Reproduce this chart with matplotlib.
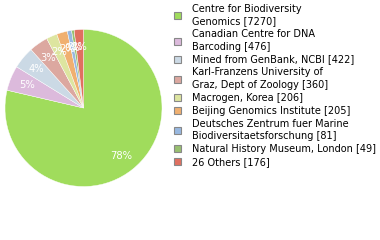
import matplotlib
matplotlib.use("Agg")
import matplotlib.pyplot as plt
from matplotlib.patches import Patch

# data
labels = ["Centre for Biodiversity\nGenomics [7270]",
          "Canadian Centre for DNA\nBarcoding [476]",
          "Mined from GenBank, NCBI [422]",
          "Karl-Franzens University of\nGraz, Dept of Zoology [360]",
          "Macrogen, Korea [206]",
          "Beijing Genomics Institute [205]",
          "Deutsches Zentrum fuer Marine\nBiodiversitaetsforschung [81]",
          "Natural History Museum, London [49]",
          "26 Others [176]"]
counts = [7270, 476, 422, 360, 206, 205, 81, 49, 176]
colors = ["#a0dc5c", "#dcbadc", "#cbd9e5", "#dca8a0", "#dde5a0",
          "#f0b070", "#98b8e0", "#98c070", "#e07060"]

fig = plt.figure(figsize=(3.8, 2.4), dpi=100)
ax = fig.add_axes([5 / 380, 53.5 / 240, 157 / 380, 157 / 240])

def fmt(p):
    return "%d%%" % int(p)

wedges, texts, autotexts = ax.pie(
    counts, colors=colors, startangle=90, counterclock=False,
    autopct=fmt, pctdistance=0.78, radius=1,
    wedgeprops=dict(edgecolor="white", linewidth=0.3),
    textprops=dict(color="white", fontsize=7.2))
ax.set_xlim(-1, 1)
ax.set_ylim(-1, 1)
ax.set_aspect("equal")
ax.axis("off")

handles = [Patch(facecolor=c, edgecolor="#888888", linewidth=0.8) for c in colors]
leg = fig.legend(handles, labels, loc="upper left", bbox_to_anchor=(172 / 380, 1 - 2 / 240),
                 frameon=False, fontsize=7.0, handlelength=0.72, handleheight=0.72,
                 handletextpad=1.1, labelspacing=0.3, borderpad=0.2, borderaxespad=0)
for t in leg.get_texts():
    t.set_linespacing(1.3)

fig.savefig("out.png", dpi=100)
